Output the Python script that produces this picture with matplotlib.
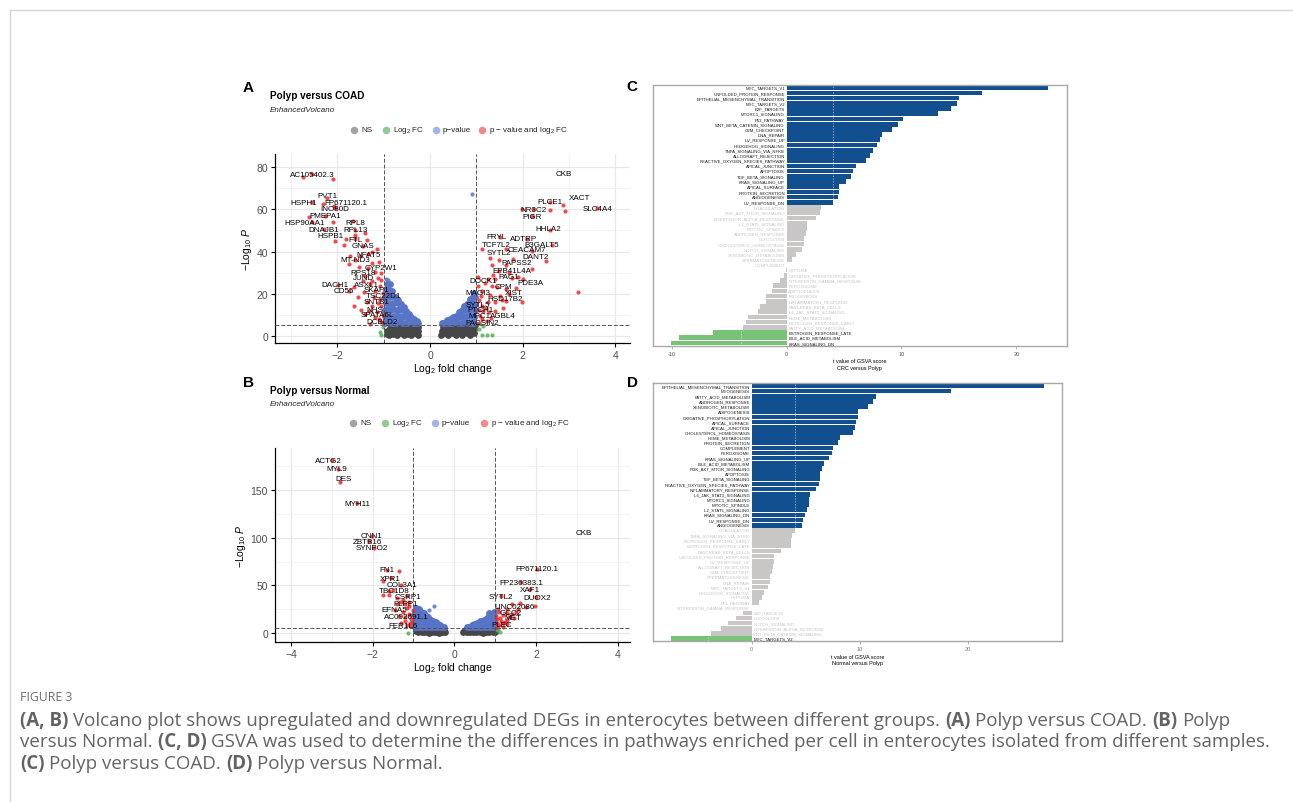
import numpy as np
import matplotlib.pyplot as plt
from matplotlib.lines import Line2D

plt.rcParams['font.family'] = ['Liberation Sans', 'DejaVu Sans']
plt.rcParams['mathtext.fontset'] = 'custom'
plt.rcParams['mathtext.rm'] = 'Liberation Sans'
plt.rcParams['mathtext.it'] = 'Liberation Sans:italic'

# ---------------- volcano A: Polyp versus COAD ----------------
a_ns = [(-0.94,0.8),(-0.93,2.6),(-0.88,0.3),(-0.87,1.9),(-0.86,3.8),(-0.8,0.9),(-0.79,2.9),(-0.77,4.8),
        (-0.72,0.4),(-0.71,2.1),(-0.69,3.9),(-0.65,5.3),(-0.63,1.2),(-0.61,3.0),(-0.56,0.5),(-0.55,4.5),
        (-0.53,2.2),(-0.48,1.1),(-0.47,3.6),(-0.45,5.6),(-0.41,0.3),(-0.4,2.6),(-0.37,4.6),(-0.34,1.5),
        (-0.32,3.4),(-0.3,5.5),(-0.27,0.6),(-0.26,2.4),(-0.25,4.2),
        (0.24,0.7),(0.25,2.5),(0.27,4.4),(0.31,1.4),(0.33,3.3),(0.34,5.4),(0.38,0.4),(0.4,2.3),(0.42,4.3),
        (0.47,1.2),(0.48,3.1),(0.5,5.3),(0.55,0.5),(0.56,2.2),(0.58,4.1),(0.63,1.3),(0.64,3.2),(0.66,5.2),
        (0.7,0.4),(0.72,2.3),(0.74,4.3),(0.79,1.2),(0.8,3.3),(0.82,5.3),(0.86,0.5),(0.88,2.4),(0.89,4.2),
        (0.94,1.3),(0.95,3.2),(0.97,5.0)]
a_fc = [(-1.08,2.0),(-1.06,0.5),(-1.01,4.4),(1.06,3.5),(1.13,0.4),(1.22,0.4),(1.33,0.4),(1.15,4.6)]
a_pv = [(-0.97,6.2),(-0.97,9.3),(-0.98,12.4),(-0.96,15.5),(-0.97,18.6),(-0.95,21.7),(-0.94,24.6),
        (-0.91,6.5),(-0.92,9.6),(-0.9,12.7),(-0.91,15.8),(-0.9,18.9),(-0.89,22.0),(-0.86,24.5),
        (-0.85,6.1),(-0.84,9.2),(-0.85,12.3),(-0.83,15.4),(-0.84,18.5),(-0.82,21.3),
        (-0.79,6.4),(-0.78,9.5),(-0.79,12.6),(-0.77,15.7),(-0.76,18.6),
        (-0.73,6.2),(-0.72,9.3),(-0.71,12.4),(-0.7,15.5),(-0.69,17.2),
        (-0.67,6.5),(-0.66,9.6),(-0.65,12.7),(-0.63,15.0),
        (-0.61,6.1),(-0.6,9.2),(-0.58,12.3),(-0.57,13.8),
        (-0.55,6.4),(-0.54,9.5),(-0.52,11.8),(-0.49,6.2),(-0.48,9.1),(-0.46,10.6),
        (-0.43,6.5),(-0.41,8.8),(-0.37,6.1),(-0.35,8.0),(-0.31,6.3),(-0.28,7.0),(-0.25,6.0),
        (0.25,6.0),(0.3,6.4),(0.35,6.1),(0.37,7.6),(0.42,6.3),(0.44,8.2),(0.48,6.0),(0.5,9.0),
        (0.54,6.5),(0.56,9.4),(0.6,6.2),(0.61,9.1),(0.62,11.2),(0.66,6.4),(0.67,9.5),(0.68,12.1),
        (0.72,6.1),(0.72,9.2),(0.73,12.3),(0.74,14.0),(0.78,6.5),(0.78,9.6),(0.79,12.6),(0.8,15.2),
        (0.84,6.2),(0.84,9.3),(0.85,12.4),(0.85,15.5),(0.86,17.3),(0.9,6.4),(0.9,9.5),(0.91,12.6),
        (0.91,15.7),(0.92,18.4),(0.96,6.1),(0.96,9.2),(0.97,12.3),(0.97,15.4),(0.97,18.5),(0.96,20.6)]
a_pv_out = [(0.9,67.2),(-0.9,26.5),(-0.95,27.2)]
a_sig = [(-2.74,75.1),(-2.56,76.5),(-2.1,74.3),(-2.32,62.4),(-2.55,63.3),(-2.22,65.5),(-2.08,61.8),(-2.05,60.4),
         (-2.61,56.2),(-2.27,56.9),(-2.1,53.8),(-1.67,54.6),(-2.55,53.8),(-2.29,50.6),(-1.62,50.3),
         (-2.05,45.1),(-1.82,45.9),(-1.62,47.7),(-1.37,45.5),(-1.87,42.9),(-1.62,45.9),(-1.44,42.7),
         (-1.74,38.0),(-1.76,34.1),(-1.51,38.1),(-1.25,39.7),(-1.33,38.8),(-1.1,35.0),(-1.53,32.6),(-1.62,36.1),
         (-1.41,28.6),(-1.26,26.2),(-1.08,23.8),(-1.98,24.0),(-1.65,23.0),(-1.76,21.4),(-1.37,16.0),(-1.26,14.3),
         (-1.08,17.5),(-1.15,11.3),(-1.05,6.6),(-1.3,5.8),(-1.2,8.9),(-1.55,18.3),(-1.2,30.5),(-1.05,30),
         (-1.35,32),(-1.12,27.5),(-1.3,24.5),(-1.18,21.5),(-1.02,20.5),(-1.42,21),(-1.22,18.5),(-1.05,14),
         (-1.12,15.5),(-1.32,12),(-1.02,10),(-1.1,8),(-1.4,10.5),(-1.25,34.5),(-1.45,26),(-1.05,26.5),
         (-1.5,12.5),(-1.65,14),(-1.15,41),(-1.4,49),
         (1.98,60.1),(2.23,60.1),(2.59,63.6),(2.59,59.8),(2.87,62),(2.92,59.3),(3.6,60.4),(2.2,56.7),
         (2.59,50.1),(1.51,46.7),(2.1,45.9),(1.12,41.2),(1.64,41.2),(2.2,40.4),(2.64,43),(2.5,35.7),(2.2,31.8),
         (1.33,33.4),(1.64,33.4),(1.79,36.5),(2.0,26.8),(1.4,26.8),(1.12,21.2),(1.33,23.6),(1.64,22.1),
         (1.51,19),(1.86,22.9),(1.98,15.9),(1.4,15.9),(1.12,14.3),(1.27,11.2),(1.12,8.0),(3.2,20.7),
         (1.64,16.7),(1.57,13.5),(1.05,6),(1.08,9.5),(1.15,11.8),(1.2,13.5),(1.05,17),(1.25,16),(1.3,19.5),
         (1.1,19),(1.18,25),(1.35,29),(1.5,31),(1.45,23),(1.22,7),(1.32,8.5),(1.05,12.5),(1.4,12),(1.48,36),
         (1.7,30),(1.9,28),(1.76,27.5),(1.55,17),(1.7,20),(1.3,37),(1.03,28),(1.03,23.5),(1.25,27)]
a_labels = [("AC105402.3",-2.54,76.4),("PVT1",-2.22,66.4),("HSPH1",-2.72,63.3),("FP671120.1",-1.81,63.3),
            ("INO80D",-2.05,60.4),("PMEPA1",-2.27,56.9),("HSP90AA1",-2.7,53.8),("RPL8",-1.62,53.8),
            ("DNAJB1",-2.29,50.6),("RPL13",-1.62,50.3),("HSPB1",-2.16,47.5),("FTL",-1.62,45.9),
            ("GNAS",-1.44,42.7),("NFAT5",-1.33,38.8),("MT-ND3",-1.62,36.1),("CYP2W1",-1.06,32.5),
            ("RPS18",-1.44,30.2),("JUND",-1.44,27.5),("DACH1",-2.05,24.3),("ASXL1",-1.37,24.6),
            ("CD55",-1.86,21.4),("SKAP1",-1.15,21.9),("TSC22D1",-1.01,19.1),("SNTB1",-1.15,16.2),
            ("NHS",-1.19,12.8),("SPATA6L",-1.14,10.1),("DCBLD2",-1.04,7.0),
            ("CKB",2.89,77.2),("XACT",3.23,65.7),("PLCE1",2.58,63.6),("SLC4A4",3.61,60.4),("NR3C2",2.23,60.1),
            ("PIGR",2.2,56.7),("HHLA2",2.56,51.0),("FRYL",1.44,47.0),("ADTRP",2.03,46.2),("TCF7L2",1.43,43.5),
            ("B3GALT5",2.41,43.2),("SYTL2",1.48,39.6),("CEACAM7",2.09,40.9),("DANT2",2.27,37.7),
            ("PAPSS2",1.87,34.9),("EPB41L4A",1.76,31.2),("PAG1",1.69,28.3),("DOCK1",1.14,26.2),
            ("PDE3A",2.16,25.4),("CPM",1.58,23.3),("XIST",1.81,20.7),("MAGI3",1.04,20.4),("HSD17B2",1.63,17.8),
            ("SYTL5",1.04,15.1),("PTCH1",1.08,12.4),("MPC1",1.06,9.6),("AGBL4",1.58,9.6),("PACSIN2",1.12,6.5)]

# ---------------- volcano B: Polyp versus Normal ----------------
b_ns = [(-0.95,2.5),(-0.88,1.0),(-0.86,3.8),(-0.8,1.3),(-0.78,4.0),(-0.74,0.6),(-0.72,2.8),(-0.68,1.5),
        (-0.66,4.2),(-0.62,0.5),(-0.6,2.9),(-0.56,1.4),(-0.54,4.1),(-0.5,0.6),(-0.48,2.8),(-0.44,1.5),
        (-0.42,4.2),(-0.38,0.5),(-0.36,2.9),(-0.32,1.4),(-0.3,4.0),(-0.27,0.6),(-0.25,2.7),(-0.22,1.3),
        (0.22,0.8),(0.26,2.9),(0.3,1.2),(0.34,3.8),(0.38,0.6),(0.42,2.7),(0.46,1.3),(0.5,4.0),(0.54,0.6),
        (0.58,2.8),(0.62,1.4),(0.66,4.1),(0.7,0.5),(0.74,2.9),(0.78,1.3),(0.82,4.0),(0.86,0.6),(0.9,2.8),
        (0.94,1.4),(0.97,4.0),(0.99,0.7)]
b_fc = [(-1.13,0.3),(1.04,2.9),(1.08,4.2),(1.12,1.6)]
b_pv = [(-0.96,6.3),(-0.97,10.4),(-0.96,14.5),(-0.95,18.6),(-0.96,22.3),(-0.94,26.1),
        (-0.9,6.1),(-0.9,10.2),(-0.89,14.3),(-0.9,18.4),(-0.88,22.5),(-0.87,25.0),
        (-0.84,6.4),(-0.83,10.5),(-0.84,14.6),(-0.82,18.3),(-0.81,22.0),
        (-0.78,6.2),(-0.77,10.3),(-0.78,14.4),(-0.76,18.1),(-0.75,20.6),
        (-0.72,6.5),(-0.71,10.1),(-0.72,14.2),(-0.7,17.6),(-0.66,6.1),(-0.65,10.4),(-0.66,14.0),(-0.64,16.5),
        (-0.6,6.3),(-0.59,10.2),(-0.58,13.6),(-0.54,6.2),(-0.53,10.0),(-0.52,12.6),
        (-0.48,6.4),(-0.47,9.6),(-0.46,11.5),(-0.42,6.1),(-0.41,9.0),(-0.36,6.3),(-0.35,8.1),
        (-0.3,6.2),(-0.26,6.0),
        (0.3,6.1),(0.36,6.3),(0.42,6.2),(0.43,8.1),(0.48,6.4),(0.49,9.0),(0.54,6.1),(0.55,10.2),
        (0.6,6.3),(0.6,10.0),(0.62,12.1),(0.66,6.2),(0.66,10.3),(0.68,13.0),(0.72,6.4),(0.72,10.1),(0.73,14.0),
        (0.78,6.1),(0.78,10.2),(0.79,14.3),(0.8,16.2),(0.84,6.3),(0.84,10.4),(0.85,14.1),(0.86,18.0),
        (0.9,6.2),(0.9,10.1),(0.91,14.2),(0.91,18.3),(0.92,20.1),(0.96,6.4),(0.96,10.3),(0.97,14.4),
        (0.97,18.1),(0.96,22.0),(0.86,21.5)]
b_pv_out = [(-0.49,28.3),(-0.62,24.5)]
b_sig = [(-3.0,181),(-2.85,172),(-2.8,158),(-2.38,136),(-2.02,102),(-2.1,96),(-1.97,89),(-1.66,66),
         (-1.35,64.6),(-1.55,58),(-1.74,55),(-1.3,50),(-1.5,45),(-1.74,39.4),(-1.6,40),(-1.4,37),(-1.15,38.8),
         (-1.3,33),(-1.2,30),(-1.1,28),(-1.45,24),(-1.25,22),(-1.1,20),(-1.35,18),(-1.05,15),(-1.2,13),
         (-1.08,10),(-1.3,10),(-1.05,7),(-1.15,26),(-1.02,24),(-1.4,30),(-1.6,44),(-1.2,17),(-1.05,19),
         (-1.15,8),(-1.25,35),(-1.12,33),(-1.03,12),
         (2.03,67.4),(1.62,53.4),(1.85,46),(1.99,37.7),(1.98,28.3),(1.15,39),(1.42,30),(1.6,31),(1.75,27),
         (1.3,25),(1.5,22),(1.1,22),(1.2,19),(1.35,17),(1.05,15),(1.15,13),(1.25,12),(1.05,10),(1.1,8),
         (1.3,9),(1.05,6),(1.2,6),(1.4,20),(1.55,25),(1.02,18),(1.12,16),(1.08,25),(1.28,14),
         (1.18,10),(1.45,16),(1.3,21)]
b_labels = [("ACTG2",-3.09,180.9),("MYL9",-2.88,172.2),("DES",-2.72,161.7),("MYH11",-2.38,135.9),
            ("CNN1",-2.02,102.3),("ZBTB16",-2.13,96.0),("SYNPO2",-2.02,89.4),("FN1",-1.66,66.4),
            ("XPR1",-1.56,57.6),("COL3A1",-1.29,50.6),("TBC1D8",-1.48,44.7),("CSRP1",-1.13,38.8),
            ("PLPP1",-1.18,30.7),("EFNA5",-1.48,24.4),("AC092691.1",-1.17,17.8),("FER1L6",-1.25,8.0),
            ("CKB",3.16,105.8),("FP671120.1",2.03,67.4),("FP236383.1",1.63,53.4),("XAF1",1.84,45.7),
            ("SYTL2",1.14,38.8),("DUOX2",2.03,37.7),("LINC02086",1.47,28.3),("GCC2",1.38,22.0),
            ("MET",1.43,16.0),("PLEC",1.17,8.7)]

# ---------------- GSVA C: CRC versus Polyp ----------------
c_names = ["MYC_TARGETS_V1","UNFOLDED_PROTEIN_RESPONSE","EPITHELIAL_MESENCHYMAL_TRANSITION","MYC_TARGETS_V2",
           "E2F_TARGETS","MTORC1_SIGNALING","P53_PATHWAY","WNT_BETA_CATENIN_SIGNALING","G2M_CHECKPOINT",
           "DNA_REPAIR","UV_RESPONSE_UP","HEDGEHOG_SIGNALING","TNFA_SIGNALING_VIA_NFKB","ALLOGRAFT_REJECTION",
           "REACTIVE_OXYGEN_SPECIES_PATHWAY","APICAL_JUNCTION","APOPTOSIS","TGF_BETA_SIGNALING",
           "KRAS_SIGNALING_UP","APICAL_SURFACE","PROTEIN_SECRETION","ANGIOGENESIS","UV_RESPONSE_DN",
           "COAGULATION","PI3K_AKT_MTOR_SIGNALING","INTERFERON_ALPHA_RESPONSE","IL2_STAT5_SIGNALING",
           "MITOTIC_SPINDLE","ANDROGEN_RESPONSE","GLYCOLYSIS","CHOLESTEROL_HOMEOSTASIS","NOTCH_SIGNALING",
           "XENOBIOTIC_METABOLISM","SPERMATOGENESIS","COMPLEMENT","HYPOXIA","OXIDATIVE_PHOSPHORYLATION",
           "INTERFERON_GAMMA_RESPONSE","PEROXISOME","ADIPOGENESIS","MYOGENESIS","INFLAMMATORY_RESPONSE",
           "PANCREAS_BETA_CELLS","IL6_JAK_STAT3_SIGNALING","HEME_METABOLISM","ESTROGEN_RESPONSE_EARLY",
           "FATTY_ACID_METABOLISM","ESTROGEN_RESPONSE_LATE","BILE_ACID_METABOLISM","KRAS_SIGNALING_DN"]
c_t = [22.8,17.0,15.0,14.86,14.3,13.15,10.16,9.67,9.2,8.27,8.13,7.9,7.55,7.26,6.9,6.0,5.8,5.6,5.2,4.6,
       4.53,4.47,4.0,3.0,2.87,2.53,1.8,1.8,1.65,1.5,1.5,1.33,0.81,0.46,0.06,-0.03,-0.23,-0.55,-1.19,-1.3,
       -1.77,-1.77,-2.29,-2.47,-3.4,-3.54,-3.83,-6.4,-9.35,-10.1]
c_n_up, c_n_down = 23, 3

# ---------------- GSVA D: Normal versus Polyp ----------------
d_names = ["EPITHELIAL_MESENCHYMAL_TRANSITION","MYOGENESIS","FATTY_ACID_METABOLISM","ANDROGEN_RESPONSE",
           "XENOBIOTIC_METABOLISM","ADIPOGENESIS","OXIDATIVE_PHOSPHORYLATION","APICAL_SURFACE","APICAL_JUNCTION",
           "CHOLESTEROL_HOMEOSTASIS","HEME_METABOLISM","PROTEIN_SECRETION","COMPLEMENT","PEROXISOME",
           "KRAS_SIGNALING_UP","BILE_ACID_METABOLISM","PI3K_AKT_MTOR_SIGNALING","APOPTOSIS","TGF_BETA_SIGNALING",
           "REACTIVE_OXYGEN_SPECIES_PATHWAY","INFLAMMATORY_RESPONSE","IL6_JAK_STAT3_SIGNALING","MTORC1_SIGNALING",
           "MITOTIC_SPINDLE","IL2_STAT5_SIGNALING","KRAS_SIGNALING_DN","UV_RESPONSE_DN","ANGIOGENESIS",
           "COAGULATION","TNFA_SIGNALING_VIA_NFKB","ESTROGEN_RESPONSE_EARLY","ESTROGEN_RESPONSE_LATE",
           "PANCREAS_BETA_CELLS","UNFOLDED_PROTEIN_RESPONSE","UV_RESPONSE_UP","ALLOGRAFT_REJECTION",
           "G2M_CHECKPOINT","SPERMATOGENESIS","DNA_REPAIR","MYC_TARGETS_V1","HEDGEHOG_SIGNALING","HYPOXIA",
           "P53_PATHWAY","INTERFERON_GAMMA_RESPONSE","E2F_TARGETS","GLYCOLYSIS","NOTCH_SIGNALING",
           "INTERFERON_ALPHA_RESPONSE","WNT_BETA_CATENIN_SIGNALING","MYC_TARGETS_V2"]
d_t = [27.07,18.46,11.54,11.27,10.74,9.81,9.81,9.66,9.54,9.38,8.21,7.96,7.5,7.47,7.16,6.7,6.51,6.36,6.36,
       6.2,5.96,5.43,5.34,5.34,5.09,4.94,4.72,4.63,4.04,3.73,3.61,3.61,2.72,2.07,2.07,1.98,1.85,1.73,1.7,
       1.54,1.11,0.93,0.68,0.06,-0.77,-1.45,-2.19,-2.84,-3.77,-7.47]
d_n_up, d_n_down = 28, 1

W, H = 1293, 803
fig = plt.figure(figsize=(W / 100, H / 100), dpi=100)


def box(l, t, r, b):
    return [l / W, 1 - b / H, (r - l) / W, (b - t) / H]


def fxy(x, y):
    return x / W, 1 - y / H


# outer frame of the page
fig.add_artist(Line2D([10 / W, 1], [1 - 11 / H] * 2, color='#d6d6d6', lw=1))
fig.add_artist(Line2D([10 / W] * 2, [0, 1 - 11 / H], color='#d6d6d6', lw=1))

NS_C, FC_C, PV_C, SIG_C = '#464646', '#5aad5a', '#5874c6', '#ee2c2c'


def volcano(ax, ns, fc, pv, pv_out, sig, labels, xlim, ylim, xmaj, xmin, ymaj, ymin):
    ax.set_xlim(xlim)
    ax.set_ylim(ylim)
    ax.set_xticks(xmaj)
    ax.set_xticks(xmin, minor=True)
    ax.set_yticks(ymaj)
    ax.set_yticks(ymin, minor=True)
    ax.set_xticklabels([str(v).replace('-', '\u2212') for v in xmaj])
    ax.set_axisbelow(True)
    ax.grid(which='major', color='#e8e8e8', lw=0.9)
    ax.grid(which='minor', color='#f1f1f1', lw=0.6)
    ax.tick_params(which='minor', length=0)
    ax.tick_params(which='major', length=3, width=0.8, labelsize=7.5, labelcolor='#4d4d4d', pad=2)
    for s in ['top', 'right']:
        ax.spines[s].set_visible(False)
    for s in ['left', 'bottom']:
        ax.spines[s].set_linewidth(0.9)
    for pts, c, s, al in [(ns, NS_C, 24, 1.0), (fc, FC_C, 9, 0.85), (pv, PV_C, 24, 1.0),
                          (pv_out, PV_C, 9, 0.85), (sig, SIG_C, 9, 0.85)]:
        x, y = np.array(pts).T
        ax.scatter(x, y, s=s, c=c, lw=0, alpha=al, zorder=2)
    for v in (-1, 1):
        ax.axvline(v, ls=(0, (4, 2)), color='#555555', lw=0.7, zorder=3)
    ax.axhline(5, ls=(0, (4, 2)), color='#555555', lw=0.7, zorder=3)
    for name, x, y in labels:
        ax.text(x, y, name, ha='center', va='center', fontsize=5.8, color='black', zorder=4)
    ax.set_xlabel('Log$_{2}$ fold change', fontsize=7.5, labelpad=1)
    ax.set_ylabel('\u2212Log$_{10}$ $P$', fontsize=7.5, labelpad=2)


def header(x, y, title, legend_y, legend_x):
    fig.text(*fxy(x, y), title, fontsize=7.2, fontweight='bold', va='center')
    fig.text(*fxy(x, y + 14), 'EnhancedVolcano', fontsize=5.8, style='italic', va='center', color='#222222')
    items = [('#a3a3a3', 'NS'), ('#93cc93', 'Log$_{2}$ FC'), ('#a3b5e6', 'p\u2212value'),
             ('#f28a8a', 'p \u2212 value and log$_{2}$ FC')]
    for (c, lab), lx in zip(items, legend_x):
        fig.add_artist(Line2D([lx / W], [1 - legend_y / H], marker='o', ms=4.4, color=c, lw=0))
        fig.text(*fxy(lx + 7, legend_y), lab, fontsize=5.8, va='center', color='#222222')


axA = fig.add_axes(box(275, 155, 630, 344))
volcano(axA, a_ns, a_fc, a_pv, a_pv_out, a_sig, a_labels, (-3.35, 4.32), (-3.3, 86.2),
        [-2, 0, 2, 4], [-3, -1, 1, 3], [0, 20, 40, 60, 80], [10, 30, 50, 70])
header(270, 96, 'Polyp versus COAD', 131, [354, 386, 436, 482])

axB = fig.add_axes(box(275, 449, 630, 643))
volcano(axB, b_ns, b_fc, b_pv, b_pv_out, b_sig, b_labels, (-4.39, 4.3), (-9.4, 194),
        [-4, -2, 0, 2, 4], [-3, -1, 1, 3], [0, 50, 100, 150], [25, 75, 125, 175])
header(270, 391, 'Polyp versus Normal', 424, [353, 385, 435, 484])

BLUE, GREEN, GREY = '#124f8e', '#78c378', '#c9c6c6'


def gsva(ax, names, vals, n_up, n_down, xlim, ticks, line1, line2, tickcol):
    n = len(names)
    y = np.arange(n)[::-1]
    cols = [BLUE] * n_up + [GREY] * (n - n_up - n_down) + [GREEN] * n_down
    ax.barh(y, vals, height=0.9, color=cols, lw=0)
    for v in (-4, 4):
        ax.axvline(v, color='white', ls=(0, (2, 2)), lw=0.5, alpha=0.7)
    for yi, nm, v, c in zip(y, names, vals, cols):
        tc = '#1a1a1a' if c != GREY else '#c4c4c4'
        if v >= 0:
            ax.text(-0.15, yi, nm, ha='right', va='center', fontsize=3.1, color=tc)
        else:
            ax.text(0.15, yi, nm, ha='left', va='center', fontsize=3.1, color=tc)
    ax.set_ylim(-0.52, n - 0.48)
    ax.set_xlim(xlim)
    ax.set_yticks([])
    ax.set_xticks(ticks)
    ax.set_xticklabels([str(t) for t in ticks])
    ax.tick_params(axis='x', length=2, width=0.5, color='#999999', labelsize=4, labelcolor=tickcol, pad=1.5)
    for s in ax.spines.values():
        s.set_color('#a8a8a8')
        s.set_linewidth(1.0)
    ax.set_xlabel(line1 + '\n' + line2, fontsize=4, labelpad=2, linespacing=1.3)


axC = fig.add_axes(box(652.7, 86, 1066.7, 346.7))
gsva(axC, c_names, c_t, c_n_up, c_n_down, (-11.67, 24.39), [-10, 0, 10, 20],
     't value of GSVA score', 'CRC versus Polyp', '#555555')

axD = fig.add_axes(box(653.3, 384.3, 1062.3, 642.3))
gsva(axD, d_names, d_t, d_n_up, d_n_down, (-9.11, 28.76), [0, 10, 20],
     't value of GSVA score', 'Normal versus Polyp', '#777777')

for lab, (x, y) in zip('ABCD', [(248, 88), (248, 383), (632, 87), (632, 383)]):
    fig.text(*fxy(x, y), lab, fontsize=11, fontweight='bold', ha='center', va='center')

# ---------------- caption ----------------
CAP = '#636363'
CAP_SIZE = 13.5
fig.text(*fxy(20, 698), 'FIGURE 3', fontsize=8.8, color='#6a6a6a', family='Open Sans', va='center')

renderer = fig.canvas.get_renderer()


def twidth(s, bold):
    t = fig.text(0, 0, s, fontsize=CAP_SIZE, family='Open Sans', fontweight='bold' if bold else 'normal')
    w = t.get_window_extent(renderer=renderer).width
    t.remove()
    return w


space_w = twidth('a a', False) - twidth('aa', False)

caption = [
    [('(A, B)', True), ('Volcano plot shows upregulated and downregulated DEGs in enterocytes between different groups.', False),
     ('(A)', True), ('Polyp versus COAD.', False), ('(B)', True), ('Polyp', False)],
    [('versus Normal.', False), ('(C, D)', True),
     ('GSVA was used to determine the differences in pathways enriched per cell in enterocytes isolated from different samples.', False)],
    [('(C)', True), ('Polyp versus COAD.', False), ('(D)', True), ('Polyp versus Normal.', False)],
]
for line, yy in zip(caption, [721, 742, 764]):
    x = 20
    for txt, bold in line:
        fig.text(*fxy(x, yy), txt, fontsize=CAP_SIZE, family='Open Sans', color=CAP,
                 fontweight='bold' if bold else 'normal', va='center')
        x += twidth(txt, bold) + space_w

fig.savefig('out.png', dpi=100)
